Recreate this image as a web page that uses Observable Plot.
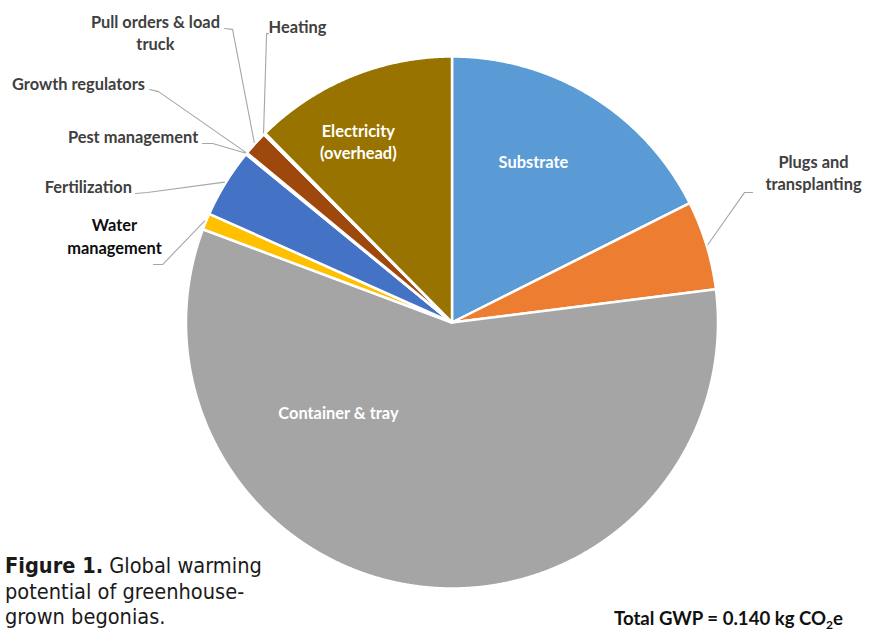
<!DOCTYPE html>
<html>
<head>
<meta charset="utf-8">
<script src="https://cdn.jsdelivr.net/npm/d3@7"></script>
<script src="https://cdn.jsdelivr.net/npm/@observablehq/plot@0.6"></script>
<style>
  html, body { margin: 0; padding: 0; background: #fff; }
  #wrap { position: relative; width: 875px; height: 632px; overflow: hidden; }
  #chart { position: absolute; left: 0; top: 0; }
  .caption { position: absolute; left: 5px; top: 553px; font-family: "DejaVu Sans Condensed", "DejaVu Sans", sans-serif; font-stretch: condensed; font-size: 21.6px; line-height: 25.5px; color: #1a1a1a; white-space: nowrap; }
  .caption b { font-weight: bold; }
  .total { position: absolute; left: 614px; top: 606px; font-family: Lato, sans-serif; font-weight: bold; font-size: 18.6px; line-height: 24px; color: #111; white-space: nowrap; }
  .total sub { font-size: 12px; vertical-align: -4px; line-height: 0; }
</style>
</head>
<body>
<div id="wrap">
  <div id="chart"></div>
  <div class="caption"><b>Figure 1.</b> Global warming<br>potential of greenhouse-<br>grown begonias.</div>
  <div class="total">Total GWP = 0.140 kg CO<sub>2</sub>e</div>
</div>
<script>
// ---- data (share of total GWP, %) clockwise from 12 o'clock ----
const categories = ["Substrate", "Plugs and transplanting", "Container & tray", "Water management",
  "Fertilization", "Pest management", "Growth regulators", "Pull orders & load truck", "Heating",
  "Electricity (overhead)"];
const shares = [17.6, 5.4, 57.7, 1.0, 4.2, 0.05, 0.05, 1.5, 0.1, 12.4];
const colors = ["#5B9BD5", "#ED7D31", "#A5A5A5", "#FFC000", "#4472C4", "#70AD47", "#264478",
  "#9E480E", "#636363", "#997300"];

// label texts
const insideTexts = ["Substrate", "Electricity\n(overhead)", "Container & tray"];
const outsideNames = ["Pull orders & load truck", "Heating", "Growth regulators", "Pest management",
  "Fertilization", "Water management", "Plugs and transplanting"];
const outsideTexts = ["Pull orders & load\ntruck", "Heating", "Growth regulators", "Pest management",
  "Fertilization", "Water\nmanagement", "Plugs and\ntransplanting"];

// ---- layout (in pie-radius units, origin at pie centre, y up) ----
const insidePos = [[0.306, 0.600], [-0.352, 0.675], [-0.427, -0.342]];
const outsidePos = [[-1.115, 1.086], [-0.581, 1.109], [-1.404, 0.895], [-1.199, 0.695],
  [-1.367, 0.508], [-1.269, 0.321], [1.359, 0.558]];
// leader start and elbow points for outside labels
const leaderStart = [[-0.855, 1.105], [-0.690, 1.086], [-1.137, 0.876], [-0.938, 0.673],
  [-1.190, 0.485], [-1.122, 0.218], [1.130, 0.489]];
const leaderElbow = [[-0.825, 1.102], [-0.697, 1.086], [-1.103, 0.868], [-0.900, 0.673],
  [-1.145, 0.489], [-1.088, 0.218], [1.100, 0.489]];

const cx = 451.5, cy = 322, R = 266, W = 875, H = 632;

// ---- build slice polygons from d3.pie ----
const arcs = d3.pie().sort(null).value(d => d)(shares);
const slicePts = [];
arcs.forEach((a, i) => {
  const n = Math.max(2, Math.ceil((a.endAngle - a.startAngle) / 0.004));
  slicePts.push({name: categories[i], x: 0, y: 0});
  for (let k = 0; k <= n; k++) {
    const t = a.startAngle + (a.endAngle - a.startAngle) * k / n;
    slicePts.push({name: categories[i], x: Math.sin(t), y: Math.cos(t)});
  }
  slicePts.push({name: categories[i], x: 0, y: 0});
});

const midOf = name => {
  const a = arcs[categories.indexOf(name)];
  const m = (a.startAngle + a.endAngle) / 2;
  return [Math.sin(m) * 1.005, Math.cos(m) * 1.005];
};

const leaderPts = [];
outsideNames.forEach((nm, i) => {
  const end = midOf(nm);
  [leaderStart[i], leaderElbow[i], end].forEach(p => leaderPts.push({id: nm, x: p[0], y: p[1]}));
});

const inside = insideTexts.map((t, i) => ({text: t, x: insidePos[i][0], y: insidePos[i][1]}));
const outsideGray = [], outsideDark = [];
outsideTexts.forEach((t, i) => {
  const d = {text: t, x: outsidePos[i][0], y: outsidePos[i][1]};
  (outsideNames[i] === "Water management" ? outsideDark : outsideGray).push(d);
});

const font = "Lato, 'Open Sans', sans-serif";
const textOpts = {x: "x", y: "y", text: "text", fontFamily: font, fontWeight: "bold",
  fontSize: 16.4, lineHeight: 1.37, dy: -2};
const chart = Plot.plot({
  width: W, height: H, margin: 0,
  x: {domain: [-cx / R, (W - cx) / R], axis: null},
  y: {domain: [(cy - H) / R, cy / R], axis: null},
  color: {domain: categories, range: colors},
  marks: [
    Plot.line(slicePts, {x: "x", y: "y", z: "name", fill: "name", stroke: "white",
      strokeWidth: 2.5, strokeLinejoin: "round", curve: "linear"}),
    Plot.line(leaderPts, {x: "x", y: "y", z: "id", stroke: "#a6a6a6", strokeWidth: 1.1,
      curve: "linear"}),
    Plot.text(inside, {...textOpts, fill: "white"}),
    Plot.text(outsideGray, {...textOpts, fill: "#404040"}),
    Plot.text(outsideDark, {...textOpts, fill: "#0d0d0d"})
  ]
});
document.getElementById("chart").appendChild(chart);
</script>
</body>
</html>
